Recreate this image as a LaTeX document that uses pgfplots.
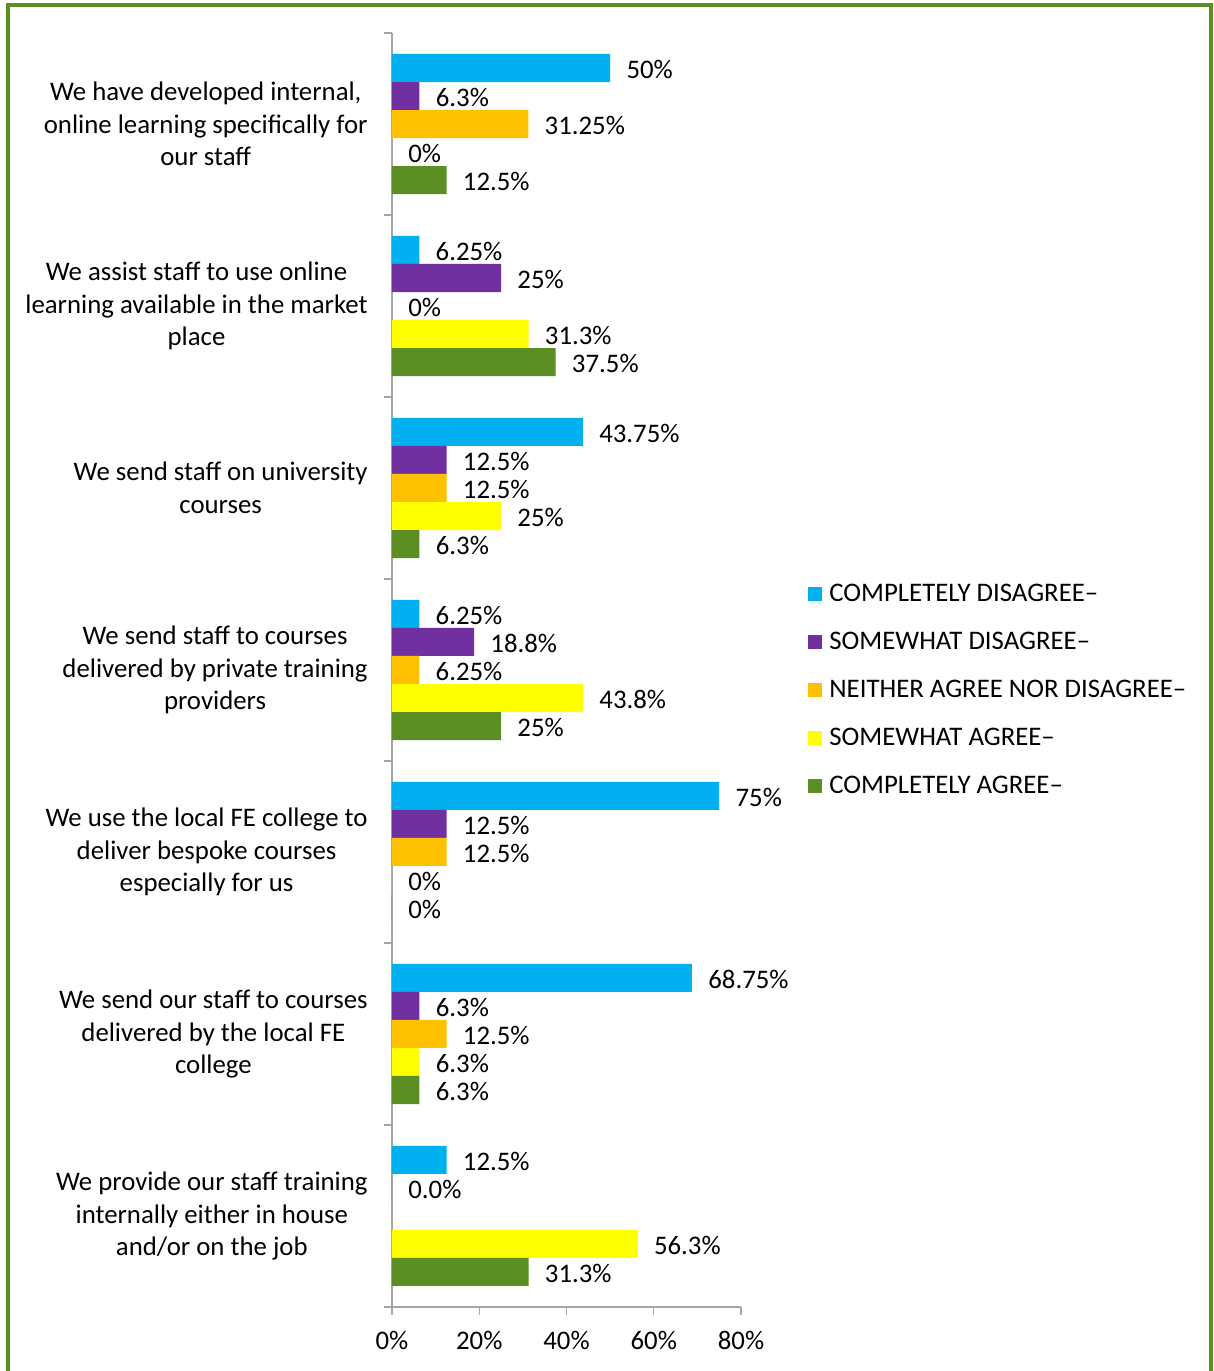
\documentclass[border=0pt]{standalone}
\usepackage{fontspec}
\setmainfont{Carlito}
\usepackage{pgfplots}
\pgfplotsset{compat=1.18}
\definecolor{cblue}{HTML}{00B0F0}
\definecolor{cpurple}{HTML}{7030A0}
\definecolor{corange}{HTML}{FFC000}
\definecolor{cyellow}{HTML}{FFFF00}
\definecolor{cgreen}{HTML}{5B8E23}
\definecolor{cborder}{HTML}{5B8E23}
\definecolor{caxis}{HTML}{A6A6A6}
\pgfplotsset{sqlegend/.style={legend image code/.code={\fill[##1] (0pt,-2.5pt) rectangle (7pt,4.5pt); \path (10.5pt,0pt);}}}
\begin{document}
\begin{tikzpicture}[font=\fontsize{13.4pt}{16.25pt}\selectfont]
\path[use as bounding box] (0,0) rectangle (607pt,685.5pt);
\draw[cborder, line width=2pt] (4pt,-10pt) -- (4pt,682.75pt) -- (605.5pt,682.75pt) -- (605.5pt,-10pt);
\begin{axis}[
 at={(196pt,32pt)}, anchor=south west,
 scale only axis, width=174.5pt, height=637pt,
 xbar, bar width=14pt,
 xmin=0, xmax=80, ymin=-0.5, ymax=6.5,
 axis x line*=bottom, axis y line*=left,
 axis line style={caxis, line width=0.6pt, -},
 xtick={0,20,40,60,80}, xticklabels={0\%,20\%,40\%,60\%,80\%},
 ytick={0,1,2,3,4,5,6},
 yticklabels={
  {We provide our staff training\\internally either in house\\and/or on the job},
  {We send our staff to courses\\delivered by the local FE\\college},
  {We use the local FE college to\\deliver bespoke courses\\especially for us},
  {We send staff to courses\\delivered by private training\\providers},
  {We send staff on university\\courses},
  {We assist staff to use online\\learning available in the market\\place},
  {We have developed internal,\\online learning specifically for\\our staff}},
 minor ytick={-0.5,0.5,1.5,2.5,3.5,4.5,5.5,6.5},
 tick align=outside, major tick length=4pt, minor tick length=4pt,
 major y tick style={draw=none},
 minor y tick style={caxis, line width=0.6pt},
 major x tick style={caxis, line width=0.6pt},
 yticklabel style={align=center, inner sep=0pt, xshift=-8pt},
 xticklabel style={inner sep=0pt, yshift=-8pt},
 point meta=explicit symbolic,
 nodes near coords,
 every node near coord/.append style={anchor=west, inner sep=0pt, xshift=8pt, yshift=-0.5pt, text=black},
 legend style={at={(1.192,0.568)}, anchor=north west, draw=none, fill=none,
   inner sep=0pt, row sep=12pt,
   nodes={inner sep=0pt, text height=9pt, text depth=3pt}},
 legend cell align=left,
]
\addplot[sqlegend, fill=cblue, draw=none, bar shift=28pt] coordinates {
 (50,6) [50\%] (6.25,5) [6.25\%] (43.75,4) [43.75\%] (6.25,3) [6.25\%]
 (75,2) [75\%] (68.75,1) [68.75\%] (12.5,0) [12.5\%]};
\addplot[sqlegend, fill=cpurple, draw=none, bar shift=14pt] coordinates {
 (6.3,6) [6.3\%] (25,5) [25\%] (12.5,4) [12.5\%] (18.8,3) [18.8\%]
 (12.5,2) [12.5\%] (6.3,1) [6.3\%] (0,0) [0.0\%]};
\addplot[sqlegend, fill=corange, draw=none, bar shift=0pt] coordinates {
 (31.25,6) [31.25\%] (0,5) [0\%] (12.5,4) [12.5\%] (6.25,3) [6.25\%]
 (12.5,2) [12.5\%] (12.5,1) [12.5\%]};
\addplot[sqlegend, fill=cyellow, draw=none, bar shift=-14pt] coordinates {
 (0,6) [0\%] (31.3,5) [31.3\%] (25,4) [25\%] (43.8,3) [43.8\%]
 (0,2) [0\%] (6.3,1) [6.3\%] (56.3,0) [56.3\%]};
\addplot[sqlegend, fill=cgreen, draw=none, bar shift=-28pt] coordinates {
 (12.5,6) [12.5\%] (37.5,5) [37.5\%] (6.3,4) [6.3\%] (25,3) [25\%]
 (0,2) [0\%] (6.3,1) [6.3\%] (31.3,0) [31.3\%]};
\legend{COMPLETELY DISAGREE–, SOMEWHAT DISAGREE–, NEITHER AGREE NOR DISAGREE–, SOMEWHAT AGREE–, COMPLETELY AGREE–}
\end{axis}
\end{tikzpicture}
\end{document}
